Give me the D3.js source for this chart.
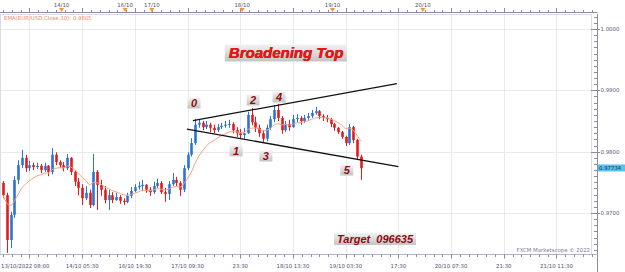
<html>
<head>
<script src="https://cdnjs.cloudflare.com/ajax/libs/d3/7.8.5/d3.min.js"></script>
<style>
body { margin: 0; background: #fff; }
svg { display: block; font-family: "DejaVu Sans", sans-serif; }
</style>
</head>
<body>
<div id="chart"></div>
<script>
// hourly candles, index 0 = 13/10/2022 08:00 gridline
var firstIndex = -7
var firstOpen = 0.9749
var closes = [0.9729,0.9656,0.9697,0.9754,0.9778,0.9790,0.9773,
  0.9778,0.9775,0.9777,0.9770,0.9777,0.9767,0.9795,0.9783,0.9778,0.9773,
  0.9790,0.9767,0.9751,0.9741,0.9724,0.9733,0.9713,0.9767,0.9746,0.9738,
  0.9721,0.9729,0.9721,0.9726,0.9720,0.9718,0.9728,0.9736,0.9742,0.9744,
  0.9746,0.9738,0.9734,0.9744,0.9749,0.9734,0.9731,0.9747,0.9754,0.9749,
  0.9738,0.9773,0.9795,0.9814,0.9844,0.9847,0.9840,0.9844,0.9839,0.9835,
  0.9840,0.9842,0.9844,0.9845,0.9835,0.9830,0.9827,0.9830,0.9860,0.9848,
  0.9839,0.9830,0.9821,0.9839,0.9853,0.9868,0.9855,0.9835,0.9845,0.9840,
  0.9853,0.9855,0.9850,0.9855,0.9858,0.9863,0.9866,0.9858,0.9855,0.9853,
  0.9845,0.9839,0.9832,0.9824,0.9814,0.9840,0.9819,0.9792,0.9773]
var highs = [0.9752,0.9733,0.9702,0.9760,0.9786,0.9803,0.9795,
  0.9785,0.9782,0.9782,0.9780,0.9782,0.9778,0.9806,0.9799,0.9786,0.9783,
  0.9796,0.9791,0.9770,0.9757,0.9747,0.9744,0.9738,0.9796,0.9770,0.9754,
  0.9744,0.9738,0.9734,0.9733,0.9729,0.9724,0.9733,0.9742,0.9747,0.9751,
  0.9754,0.9747,0.9742,0.9751,0.9756,0.9752,0.9741,0.9752,0.9765,0.9759,
  0.9752,0.9778,0.9799,0.9822,0.9853,0.9853,0.9850,0.9850,0.9847,0.9844,
  0.9845,0.9847,0.9850,0.9852,0.9848,0.9840,0.9837,0.9839,0.9865,0.9871,
  0.9857,0.9844,0.9835,0.9844,0.9858,0.9876,0.9878,0.9858,0.9850,0.9852,
  0.9860,0.9861,0.9858,0.9860,0.9863,0.9868,0.9873,0.9868,0.9861,0.9860,
  0.9855,0.9847,0.9840,0.9834,0.9826,0.9845,0.9842,0.9821,0.9795]
var lows = [0.9724,0.9635,0.9643,0.9692,0.9747,0.9773,0.9767,
  0.9768,0.9770,0.9772,0.9765,0.9767,0.9760,0.9763,0.9778,0.9773,0.9768,
  0.9770,0.9762,0.9744,0.9729,0.9713,0.9721,0.9708,0.9711,0.9705,0.9728,
  0.9716,0.9705,0.9716,0.9720,0.9715,0.9713,0.9716,0.9724,0.9734,0.9738,
  0.9736,0.9733,0.9728,0.9731,0.9741,0.9731,0.9718,0.9721,0.9744,0.9744,
  0.9728,0.9734,0.9770,0.9792,0.9811,0.9839,0.9835,0.9837,0.9832,0.9830,
  0.9832,0.9837,0.9839,0.9839,0.9830,0.9824,0.9822,0.9821,0.9829,0.9843,
  0.9832,0.9824,0.9816,0.9817,0.9835,0.9848,0.9850,0.9829,0.9832,0.9834,
  0.9839,0.9848,0.9844,0.9847,0.9852,0.9855,0.9860,0.9853,0.9850,0.9848,
  0.9840,0.9834,0.9829,0.9821,0.9809,0.9811,0.9814,0.9787,0.9754]

var priceTicks = [0.97, 0.98, 0.99, 1.00]
var timeLabels = ["13/10/2022 08:00","14/10 05:30","16/10 19:30","17/10 09:30","23:30",
  "18/10 13:30","19/10 03:30","17:30","20/10 07:30","21:30","21/10 11:30"]
var timeStep = 14
var dayLabels = ["14/10","16/10","17/10","18/10","19/10","20/10"]
var dayIndex = [8.5, 25.4, 32.5, 56.5, 80.5, 104.5]

// trend lines [i1, p1, i2, p2]
var trendLines = [[43.4, 0.98505, 97.6, 0.99111], [41.8, 0.98369, 98.0, 0.97755]]
var pointNames = ["0","2","4","1","3","5"]
var pointIndex = [43.7, 59.4, 66.3, 54.9, 62.8, 84.3]
var pointPrice = [0.98793, 0.98842, 0.98891, 0.98014, 0.97929, 0.97701]
var lastPrice = 0.97734
var emaValue = 0.9805

var width = 625, height = 272
var plot = {left: 0, right: 592, top: 14, bottom: 254}

var x = d3.scaleLinear().domain([-7.837, 149.44]).range([plot.left, plot.right])
var y = d3.scaleLinear().domain([0.963313, 1.002446]).range([plot.bottom, plot.top])

var svg = d3.select("#chart").append("svg")
  .attr("width", width).attr("height", height)

var defs = svg.append("defs")
var grad = defs.append("linearGradient").attr("id", "boxg")
  .attr("x1", 0).attr("y1", 0).attr("x2", 0).attr("y2", 1)
grad.append("stop").attr("offset", "0%").attr("stop-color", "#f2f2f2")
grad.append("stop").attr("offset", "100%").attr("stop-color", "#c4c4c4")
defs.append("clipPath").attr("id", "clip").append("rect")
  .attr("x", plot.left).attr("y", plot.top)
  .attr("width", plot.right - plot.left).attr("height", plot.bottom - plot.top)

// grid
var gridIdx = d3.range(0, 141, timeStep)
svg.selectAll(".vg").data(gridIdx).enter().append("line")
  .attr("x1", function(d){return Math.round(x(d)) + 0.5}).attr("x2", function(d){return Math.round(x(d)) + 0.5})
  .attr("y1", plot.top).attr("y2", plot.bottom)
  .attr("stroke", "#eaeaea").attr("stroke-width", 1)
svg.selectAll(".hg").data(priceTicks).enter().append("line")
  .attr("x1", plot.left).attr("x2", plot.right)
  .attr("y1", function(d){return Math.round(y(d)) + 0.5}).attr("y2", function(d){return Math.round(y(d)) + 0.5})
  .attr("stroke", "#eaeaea").attr("stroke-width", 1)

// plot frame
svg.append("rect").attr("x", plot.left + 0.5).attr("y", plot.top + 0.5)
  .attr("width", plot.right - plot.left - 1).attr("height", plot.bottom - plot.top)
  .attr("fill", "none").attr("stroke", "#d8dce4")

// candles
var candles = closes.map(function(c, k){
  return {i: firstIndex + k, o: k == 0 ? firstOpen : closes[k-1], c: c, h: highs[k], l: lows[k]}
})
var g = svg.append("g").attr("clip-path", "url(#clip)")
var bw = 2.6
g.selectAll(".wick").data(candles).enter().append("line")
  .attr("x1", function(d){return Math.round(x(d.i)) + 0.5}).attr("x2", function(d){return Math.round(x(d.i)) + 0.5})
  .attr("y1", function(d){return y(d.h)}).attr("y2", function(d){return y(d.l)})
  .attr("stroke", function(d){return d.c >= d.o ? "#2a74d4" : "#e41b1b"})
  .attr("stroke-width", 1)
g.selectAll(".body").data(candles).enter().append("rect")
  .attr("x", function(d){return Math.round(x(d.i)) + 0.5 - bw/2})
  .attr("width", bw)
  .attr("y", function(d){return y(Math.max(d.o, d.c))})
  .attr("height", function(d){return Math.max(1, Math.abs(y(d.o) - y(d.c)))})
  .attr("fill", function(d){return d.c >= d.o ? "#2a74d4" : "#e41b1b"})

// EMA(Close,10)
var k10 = 2 / 11, ema = []
candles.forEach(function(d, n){
  var v = n == 0 ? d.c : d.c * k10 + ema[n-1].v * (1 - k10)
  ema.push({i: d.i, v: v})
})
g.append("path").datum(ema)
  .attr("d", d3.line().x(function(d){return x(d.i)}).y(function(d){return y(d.v)}).curve(d3.curveMonotoneX))
  .attr("fill", "none").attr("stroke", "#f7a184").attr("stroke-width", 1)

// trend lines
svg.selectAll(".trend").data(trendLines).enter().append("line")
  .attr("x1", function(d){return x(d[0])}).attr("y1", function(d){return y(d[1])})
  .attr("x2", function(d){return x(d[2])}).attr("y2", function(d){return y(d[3])})
  .attr("stroke", "#111").attr("stroke-width", 1.3)

// point labels
var pts = svg.selectAll(".pt").data(pointNames).enter().append("g")
  .attr("transform", function(d, n){return "translate(" + x(pointIndex[n]) + "," + y(pointPrice[n]) + ")"})
pts.append("rect").attr("x", -6.5).attr("y", -5.5).attr("width", 13).attr("height", 11)
  .attr("fill", "url(#boxg)")
pts.append("text").text(function(d){return d})
  .attr("text-anchor", "middle").attr("y", 4)
  .attr("font-family", "Liberation Sans, Arial, sans-serif")
  .attr("font-size", 11).attr("font-weight", "bold").attr("font-style", "italic")
  .attr("fill", "#8e0c10")

// title
var tg = svg.append("g").attr("transform", "translate(" + x(68.1) + "," + y(0.99609) + ")")
tg.append("rect").attr("x", -61).attr("y", -8.5).attr("width", 122).attr("height", 17).attr("fill", "url(#boxg)")
tg.append("text").text("Broadening Top").attr("text-anchor", "middle").attr("x", 0.5).attr("y", 5.5)
  .attr("font-family", "Liberation Sans, Arial, sans-serif").attr("font-size", 15)
  .attr("font-weight", "bold").attr("font-style", "italic").attr("fill", "#7a0000")
tg.append("text").text("Broadening Top").attr("text-anchor", "middle").attr("y", 5)
  .attr("font-family", "Liberation Sans, Arial, sans-serif").attr("font-size", 15)
  .attr("font-weight", "bold").attr("font-style", "italic").attr("fill", "#f01414")

// target
var trg = svg.append("g").attr("transform", "translate(" + x(91.8) + "," + y(0.96576) + ")")
trg.append("rect").attr("x", -41).attr("y", -6).attr("width", 82).attr("height", 12).attr("fill", "url(#boxg)")
trg.append("text").text("Target  096635").attr("text-anchor", "middle").attr("y", 4)
  .style("white-space", "pre")
  .attr("font-family", "Liberation Sans, Arial, sans-serif").attr("font-size", 11)
  .attr("font-weight", "bold").attr("font-style", "italic").attr("fill", "#8e0c10")

// EMA legend & watermark
svg.append("text").text("EMA(EUR/USD.Close,10): " + emaValue.toFixed(4))
  .attr("x", 4).attr("y", 19.5).attr("font-size", 5.4).attr("fill", "#f08a64")
svg.append("text").text("FXCM Marketscope \u00a9 2022")
  .attr("x", 590).attr("y", 252).attr("text-anchor", "end").attr("font-size", 5.4).attr("fill", "#7c7c98")

// right axis
var ax = 597.5
svg.append("line").attr("x1", ax).attr("x2", ax).attr("y1", plot.top).attr("y2", height)
  .attr("stroke", "#8a8aa0")
var minor = d3.range(0.964, 1.0025, 0.001)
svg.selectAll(".mt").data(minor).enter().append("line")
  .attr("x1", 594).attr("x2", ax)
  .attr("y1", function(d){return Math.round(y(d)) + 0.5}).attr("y2", function(d){return Math.round(y(d)) + 0.5})
  .attr("stroke", "#8a8aa0")
svg.selectAll(".Mt").data(priceTicks).enter().append("line")
  .attr("x1", 591).attr("x2", 600)
  .attr("y1", function(d){return Math.round(y(d)) + 0.5}).attr("y2", function(d){return Math.round(y(d)) + 0.5})
  .attr("stroke", "#8a8aa0")
svg.selectAll(".pl").data(priceTicks).enter().append("text")
  .text(function(d){return d.toFixed(4)})
  .attr("x", 600.5).attr("y", function(d){return y(d) + 2})
  .attr("font-size", 5.4).attr("fill", "#5a5a7c")
svg.append("rect").attr("x", 598).attr("y", y(lastPrice) - 3.5).attr("width", 27).attr("height", 7)
  .attr("fill", "#56c2f2")
svg.append("text").text(lastPrice.toFixed(5))
  .attr("x", 599).attr("y", y(lastPrice) + 2).attr("font-size", 5.4).attr("fill", "#1c2a50")

// bottom axis
var by = plot.bottom + 0.5
svg.append("line").attr("x1", plot.left).attr("x2", ax).attr("y1", by).attr("y2", by).attr("stroke", "#b0b4c4")
var smallTicks = d3.range(-7, 150, timeStep / 6)
svg.selectAll(".bt").data(smallTicks).enter().append("line")
  .attr("x1", function(d){return Math.round(x(d)) + 0.5}).attr("x2", function(d){return Math.round(x(d)) + 0.5})
  .attr("y1", by).attr("y2", by + 2.5).attr("stroke", "#8a8aa0")
svg.selectAll(".bT").data(gridIdx).enter().append("line")
  .attr("x1", function(d){return Math.round(x(d)) + 0.5}).attr("x2", function(d){return Math.round(x(d)) + 0.5})
  .attr("y1", by).attr("y2", by + 4).attr("stroke", "#8a8aa0")
svg.selectAll(".bl").data(timeLabels).enter().append("text")
  .text(function(d){return d})
  .attr("x", function(d, n){return n == 0 ? 1 : x(gridIdx[n])})
  .attr("text-anchor", function(d, n){return n == 0 ? "start" : "middle"})
  .attr("y", 268).attr("font-size", 5.4).attr("fill", "#4e4e70")

// top axis
var ty = 12.5
svg.append("line").attr("x1", plot.left).attr("x2", ax).attr("y1", ty).attr("y2", ty).attr("stroke", "#8a8aa0")
svg.selectAll(".tt").data(smallTicks).enter().append("line")
  .attr("x1", function(d){return Math.round(x(d)) + 0.5}).attr("x2", function(d){return Math.round(x(d)) + 0.5})
  .attr("y1", ty - 2.5).attr("y2", ty).attr("stroke", "#8a8aa0")
svg.selectAll(".tT").data(gridIdx).enter().append("line")
  .attr("x1", function(d){return Math.round(x(d)) + 0.5}).attr("x2", function(d){return Math.round(x(d)) + 0.5})
  .attr("y1", ty - 4.5).attr("y2", ty).attr("stroke", "#8a8aa0")
svg.selectAll(".dl").data(dayLabels).enter().append("text")
  .text(function(d){return d})
  .attr("x", function(d, n){return x(dayIndex[n])}).attr("y", 6.5)
  .attr("text-anchor", "middle").attr("font-size", 5.4).attr("fill", "#4e4e70")
svg.selectAll(".dm").data(dayIndex).enter().append("path")
  .attr("d", function(d){var cx = x(d); return "M" + (cx - 2.5) + ",8 L" + (cx + 2.5) + ",8 L" + cx + ",12 Z"})
  .attr("fill", "#f59a23")
</script>
</body>
</html>
